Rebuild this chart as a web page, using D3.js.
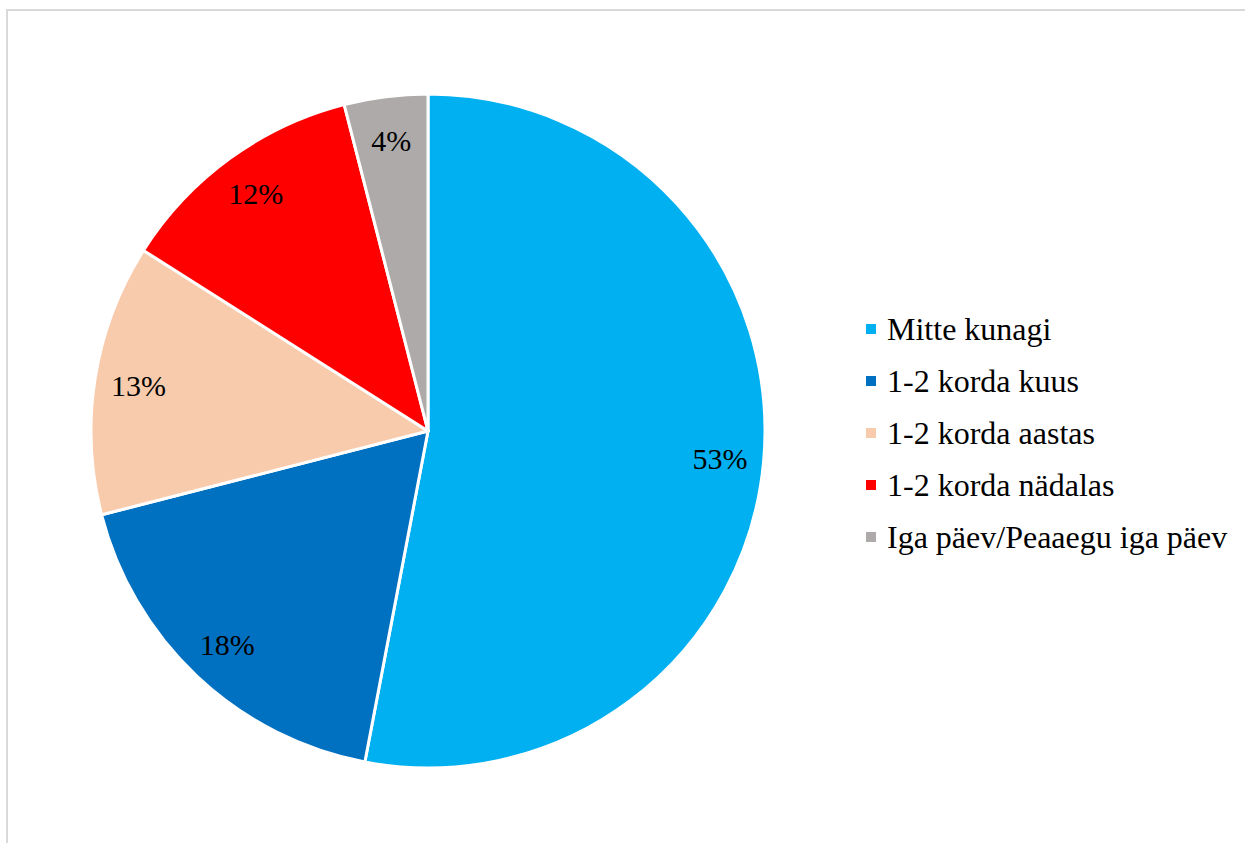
<!DOCTYPE html>
<html>
<head>
<meta charset="utf-8">
<script src="https://cdn.jsdelivr.net/npm/d3@7"></script>
<style>
  html, body { margin: 0; padding: 0; background: #fff; }
  svg { display: block; }
</style>
</head>
<body>
<svg id="chart" width="1245" height="843"></svg>
<script>
// Answer categories, their shares (%) and slice colours
const categories = ["Mitte kunagi", "1-2 korda kuus", "1-2 korda aastas", "1-2 korda nädalas", "Iga päev/Peaaegu iga päev"];
const shares = [53, 18, 13, 12, 4];
const colors = ["#00B0F0", "#0070C0", "#F8CBAD", "#FF0000", "#AEAAAA"];

const data = categories.map((c, i) => ({ name: c, value: shares[i], color: colors[i] }));

const svg = d3.select("#chart");
const font = "'Liberation Serif', 'Times New Roman', serif";

// Chart frame (top and left edges visible)
svg.append("path")
  .attr("d", "M7,843 V10 H1245")
  .attr("fill", "none")
  .attr("stroke", "#d9d9d9")
  .attr("stroke-width", 2);

const cx = 428, cy = 431, r = 337;
const g = svg.append("g").attr("transform", `translate(${cx},${cy})`);

const pie = d3.pie().value(d => d.value).sort(null);
const arc = d3.arc().innerRadius(0).outerRadius(r);
const labelArc = d3.arc().innerRadius(r * 0.87).outerRadius(r * 0.87);

const arcs = pie(data);

g.selectAll("path.slice")
  .data(arcs)
  .join("path")
  .attr("class", "slice")
  .attr("d", arc)
  .attr("fill", d => d.data.color)
  .attr("stroke", "#fff")
  .attr("stroke-width", 3)
  .attr("stroke-linejoin", "round");

g.selectAll("text.pct")
  .data(arcs)
  .join("text")
  .attr("class", "pct")
  .attr("transform", d => {
    const [x, y] = labelArc.centroid(d);
    return `translate(${x},${y})`;
  })
  .attr("text-anchor", "middle")
  .attr("dominant-baseline", "central")
  .attr("font-family", font)
  .attr("font-size", 30)
  .attr("fill", "#000")
  .text(d => d.data.value + "%");

// Legend
const legend = svg.append("g").attr("transform", "translate(866,329)");
const rowH = 52;
const items = legend.selectAll("g.item")
  .data(data)
  .join("g")
  .attr("class", "item")
  .attr("transform", (d, i) => `translate(0,${i * rowH})`);

items.append("rect")
  .attr("x", 0).attr("y", -5)
  .attr("width", 10).attr("height", 10)
  .attr("fill", d => d.color);

items.append("text")
  .attr("x", 21)
  .attr("y", 0)
  .attr("dominant-baseline", "central")
  .attr("font-family", font)
  .attr("font-size", 32)
  .attr("fill", "#000")
  .text(d => d.name);
</script>
</body>
</html>
